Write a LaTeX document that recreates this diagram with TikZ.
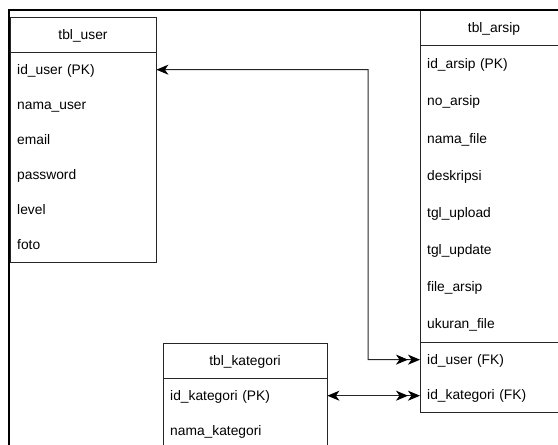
\documentclass[tikz,border=0pt]{standalone}
\usepackage{fontspec}
\setmainfont{Liberation Sans}
\usetikzlibrary{arrows.meta}
\tikzset{
  tbl/.style={draw=black!85, line width=0.9pt},
  sep/.style={draw=black!85, line width=0.9pt},
  fld/.style={inner xsep=7pt, inner ysep=0pt, text height=10pt, text depth=0pt,
    align=left, anchor=north west, font=\fontsize{13.8}{16}\selectfont},
  hdr/.style={inner sep=0pt, text height=10pt, text depth=0pt, font=\fontsize{13.8}{16}\selectfont},
  conn/.style={draw=black!85, line width=1pt},
  frame/.style={draw=black, line width=2pt},
  erhead/.tip={Stealth[length=12pt,width=10pt,inset=3.5pt,color=black]}
}
\begin{document}
\begin{tikzpicture}[x=1pt,y=-1pt]
\useasboundingbox (0,0) rectangle (558,445);
\clip (0,0) rectangle (558,445);

% ---------- tbl_user ----------
\node[tbl, rectangle, anchor=north west, minimum width=146pt, minimum height=245pt, inner sep=0pt] (user) at (10,17) {};
\draw[sep] (10,52) -- (156,52);
\node[hdr] (userh) at (83,34.5) {tbl\_user};
\node[fld, text width=132pt, minimum height=35pt] (uid)   at (10,52)  {id\_user (PK)};
\node[fld, text width=132pt, minimum height=35pt] (unama) at (10,87)  {nama\_user};
\node[fld, text width=132pt, minimum height=35pt] (umail) at (10,122) {email};
\node[fld, text width=132pt, minimum height=35pt] (upass) at (10,157) {password};
\node[fld, text width=132pt, minimum height=35pt] (ulev)  at (10,192) {level};
\node[fld, text width=132pt, minimum height=35pt] (ufoto) at (10,227) {foto};

% ---------- tbl_arsip ----------
\node[tbl, rectangle, anchor=north west, minimum width=148pt, minimum height=402pt, inner sep=0pt] (arsip) at (420,10) {};
\draw[sep] (420,45) -- (568,45);
\draw[sep] (420,342) -- (568,342);
\node[hdr] (arsiph) at (494,27.5) {tbl\_arsip};
\node[fld, text width=134pt, minimum height=37.125pt] (aid)   at (420,45)      {id\_arsip (PK)};
\node[fld, text width=134pt, minimum height=37.125pt] (ano)   at (420,82.125)  {no\_arsip};
\node[fld, text width=134pt, minimum height=37.125pt] (anama) at (420,119.25)  {nama\_file};
\node[fld, text width=134pt, minimum height=37.125pt] (adesk) at (420,156.375) {deskripsi};
\node[fld, text width=134pt, minimum height=37.125pt] (aup)   at (420,193.5)   {tgl\_upload};
\node[fld, text width=134pt, minimum height=37.125pt] (aupd)  at (420,230.625) {tgl\_update};
\node[fld, text width=134pt, minimum height=37.125pt] (afile) at (420,267.75)  {file\_arsip};
\node[fld, text width=134pt, minimum height=37.125pt] (auk)   at (420,304.875) {ukuran\_file};
\node[fld, text width=134pt, minimum height=35pt] (fku) at (420,342) {id\_user (FK)};
\node[fld, text width=134pt, minimum height=35pt] (fkk) at (420,377) {id\_kategori (FK)};

% ---------- tbl_kategori ----------
\node[tbl, rectangle, anchor=north west, minimum width=164pt, minimum height=105pt, inner sep=0pt] (kat) at (163,343) {};
\draw[sep] (163,378) -- (327,378);
\node[hdr] (kath) at (245,360.5) {tbl\_kategori};
\node[fld, text width=150pt, minimum height=35pt] (kpk)   at (163,378) {id\_kategori (PK)};
\node[fld, text width=150pt, minimum height=35pt] (knama) at (163,413) {nama\_kategori};

% ---------- connectors ----------
\coordinate (elbow) at (368,359.5);
\draw[conn, {erhead}-{erhead[]erhead}] (uid.east) -| (elbow) -- (fku.west);
\draw[conn, {erhead}-{erhead[]erhead}] (kpk.east) -- (kpk.east -| fkk.west);

% ---------- outer frame ----------
\draw[frame] (8.5,446) -- (8.5,9.5) -- (559,9.5);
\end{tikzpicture}
\end{document}
